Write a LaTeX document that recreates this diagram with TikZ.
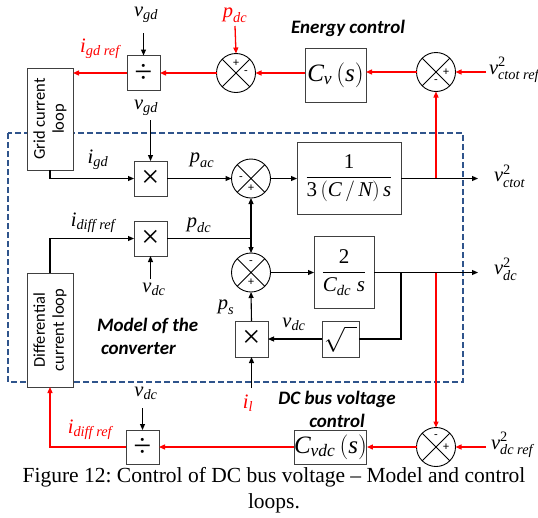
\documentclass[tikz,border=0pt]{standalone}
\usepackage{amsmath}
\usepackage{fontspec}
\setmainfont{Liberation Serif}
\newfontfamily\carl{Carlito}
\usetikzlibrary{arrows.meta,calc}
\definecolor{dashblue}{RGB}{47,84,140}
\definecolor{boxgray}{RGB}{64,64,64}
\frenchspacing
\begin{document}
\begin{tikzpicture}[x=1pt,y=-1pt,
  every node/.style={inner sep=0pt, outer sep=0pt},
  blk/.style={draw=boxgray, line width=1pt, fill=white, rectangle},
  opbox/.style={blk, minimum width=33pt, minimum height=35pt, font=\fontsize{32}{32}\selectfont},
  sumc/.style={circle, draw=black, line width=0.9pt, minimum size=39pt, fill=white},
  sgn/.style={font=\carl\fontsize{12}{12}\selectfont},
  lbl/.style={font=\fontsize{20.5}{20.5}\selectfont},
  big/.style={font=\fontsize{25}{25}\selectfont},
  ttl/.style={font=\carl\bfseries\itshape\fontsize{19}{23}\selectfont, align=center},
  loopbox/.style={blk, rotate=90, align=center, font=\carl\fontsize{16.5}{19}\selectfont, minimum height=46pt},
  ar/.style={-{Triangle[length=6pt,width=5pt]}, line width=1.1pt, draw=black},
  pl/.style={line width=1.1pt, draw=black},
  rar/.style={-{Triangle[length=6pt,width=5pt]}, line width=1.3pt, draw=red},
]
\path[use as bounding box] (0,0) rectangle (538,517);

% dashed frame of the converter model
\draw[dashblue, line width=1.5pt, dash pattern=on 6pt off 3pt] (8,133) rectangle (463,382);

% ---------- blocks ----------
\node[loopbox, minimum width=102pt] (grid) at (50,119) {Grid current\\loop};
\node[loopbox, minimum width=114pt] (diff) at (50,330) {Differential\\current loop};

\node[opbox] (div1) at (143.5,73) {÷};
\node[sumc] (sA) at (236,73) {};
\node[blk, big, minimum width=61pt, minimum height=54pt] (Cv) at (335.5,75) {$\textit{C}_{\textit{v}}\left(\textit{s}\right)$};
\node[sumc] (sB) at (436,72) {};

\node[opbox] (mul1) at (150.5,178.5) {×};
\node[sumc] (s1) at (251,178.5) {};
\node[blk, font=\fontsize{21}{21}\selectfont, minimum width=104pt, minimum height=72pt] (G1) at (349,178.5) {$\dfrac{\textup{1}}{\textup{3}\left(\textit{C}\,/\,\textit{N}\right)\textit{s}}$};

\node[opbox] (mul2) at (150.5,238.5) {×};
\coordinate (jn) at (251,238.5);
\node[sumc] (s2) at (251,272.5) {};
\node[blk, font=\fontsize{21}{21}\selectfont, minimum width=60pt, minimum height=72pt] (G2) at (344,272.5) {$\dfrac{\textup{2}}{\textit{C}_{\textit{dc}}\;\textit{s}}$};
\node[blk, minimum width=37pt, minimum height=36pt, font=\fontsize{24}{24}\selectfont] (sq) at (340.5,339) {$\sqrt{\rule{0pt}{20pt}\hspace{12pt}}$};
\node[opbox, minimum height=36pt] (mul3) at (251.5,339) {×};

\node[opbox, minimum height=34pt] (div2) at (142.5,447) {÷};
\node[blk, big, minimum width=67pt, minimum height=34pt] (Cvdc) at (330.5,447) {$\textit{C}_{\textit{vdc}}\left(\textit{s}\right)$};
\node[sumc] (sC) at (436,447) {};

% crosses in summing junctions
\foreach \s in {sA,sB,s1,s2,sC}{
  \draw[line width=0.8pt] (\s.135) -- (\s.-45) (\s.45) -- (\s.-135);
}
% signs
\node[sgn] at ($(sA)+(0,-10)$) {+};
\node[sgn] at ($(sA)+(10,0)$) {-};
\node[sgn] at ($(sB)+(10,0)$) {+};
\node[sgn] at ($(sB)+(0,10)$) {-};
\node[sgn] at ($(s1)+(-10,0)$) {-};
\node[sgn] at ($(s1)+(0,10)$) {+};
\node[sgn] at ($(s2)+(0,-10)$) {-};
\node[sgn] at ($(s2)+(0,10)$) {+};
\node[sgn] at ($(sC)+(0,-10)$) {-};
\node[sgn] at ($(sC)+(10,0)$) {+};

% ---------- labels ----------
\node[lbl] (vgd1) at (146,15) {$\textit{v}_{\textit{gd}}$};
\node[lbl] (vgd2) at (146,108) {$\textit{v}_{\textit{gd}}$};
\node[lbl, red] (igdref) at (100,49) {$\textit{i}_{\textit{gd ref}}$};
\node[lbl, red] (pdc1) at (235,15) {$\textit{p}_{\textit{dc}}$};
\node[ttl] (energy) at (348,28) {Energy control};
\node[lbl, anchor=west] (vctotref) at (489,70) {$\textit{v}^{\textup{2}}_{\textit{ctot ref}}$};
\node[lbl] (igd) at (98,160) {$\textit{i}_{\textit{gd}}$};
\node[lbl] (pac) at (202,160) {$\textit{p}_{\textit{ac}}$};
\node[lbl, anchor=west] (vctot) at (494,176) {$\textit{v}^{\textup{2}}_{\textit{ctot}}$};
\node[lbl] (idiffref1) at (93,223) {$\textit{i}_{\textit{diff ref}}$};
\node[lbl] (pdc2) at (199,225) {$\textit{p}_{\textit{dc}}$};
\node[lbl, anchor=west] (vdc2sq) at (494,269) {$\textit{v}^{\textup{2}}_{\textit{dc}}$};
\node[lbl] (vdc1) at (154,289) {$\textit{v}_{\textit{dc}}$};
\node[lbl] (ps) at (226,307) {$\textit{p}_{\textit{s}}$};
\node[lbl] (vdc2) at (294,324) {$\textit{v}_{\textit{dc}}$};
\node[ttl, align=left, anchor=west] (model) at (97,336) {Model of the\\\hspace{4pt}converter};
\node[lbl, red] (il) at (248,403) {$\textit{i}_{\textit{l}}$};
\node[ttl] (dcbus) at (337,409) {DC bus voltage\\control};
\node[lbl] (vdc3) at (146,393) {$\textit{v}_{\textit{dc}}$};
\node[lbl, red] (idiffref2) at (90,430) {$\textit{i}_{\textit{diff ref}}$};
\node[lbl, anchor=west] (vdcref) at (491,445) {$\textit{v}^{\textup{2}}_{\textit{dc ref}}$};

% caption
\node[font=\fontsize{21.5}{26}\selectfont, align=center] (cap) at (274,490) {Figure 12: Control of DC bus voltage – Model and control\\loops.};

% ---------- free ends ----------
\coordinate (a1) at (143.5,33);
\coordinate (a2) at (235,26);
\coordinate (a3) at (486,72);
\coordinate (a4) at (150.5,120);
\coordinate (a5) at (478,178.5);
\coordinate (a6) at (150.5,279);
\coordinate (a7) at (478,272.5);
\coordinate (a8) at (251.5,388);
\coordinate (a9) at (142.5,408);
\coordinate (a10) at (486,447);
\coordinate (t2) at (401,272.5);

% ---------- connectors: control (red) ----------
\draw[ar] (a1) -- (div1.north);
\draw[rar] (a2) -- (sA.north);
\draw[rar] (sA.west) -- (sA.west -| div1.east);
\draw[rar] (div1.west) -- (div1.west -| grid.south);
\draw[rar] (sA.east -| Cv.west) -- (sA.east);
\draw[rar] (sB.west) -- (sB.west -| Cv.east);
\draw[rar] (a3) -- (sB.east);
\draw[rar] (sB.south |- G1.east) -- (sB.south);

% ---------- model (black) ----------
\draw[ar] (a4) -- (mul1.north);
\draw[ar] (grid.west) |- (mul1.west);
\draw[ar] (mul1.east) -- (s1.west);
\draw[ar] (s1.east) -- (G1.west);
\draw[ar] (G1.east) -- (a5);

\draw[ar] (diff.east) |- (mul2.west);
\draw[ar] (a6) -- (mul2.south);
\draw[pl] (mul2.east) -- (jn);
\draw[ar] (jn) -- (s1.south);
\draw[ar] (jn) -- (s2.north);
\draw[ar] (s2.east) -- (G2.west);
\draw[ar] (G2.east) -- (a7);
\draw[pl] (t2) |- (sq.east);
\draw[ar] (sq.west) -- (mul3.east);
\draw[ar] (mul3.north) -- (s2.south);
\draw[ar] (a8) -- (mul3.south);

% ---------- DC bus voltage control (red) ----------
\draw[rar] (sC.north |- G2.east) -- (sC.north);
\draw[rar] (a10) -- (sC.east);
\draw[rar] (sC.west) -- (Cvdc.east);
\draw[rar] (Cvdc.west) -- (div2.east);
\draw[rar] (div2.west) -| (diff.west);
\draw[ar] (a9) -- (div2.north);
\end{tikzpicture}
\end{document}
